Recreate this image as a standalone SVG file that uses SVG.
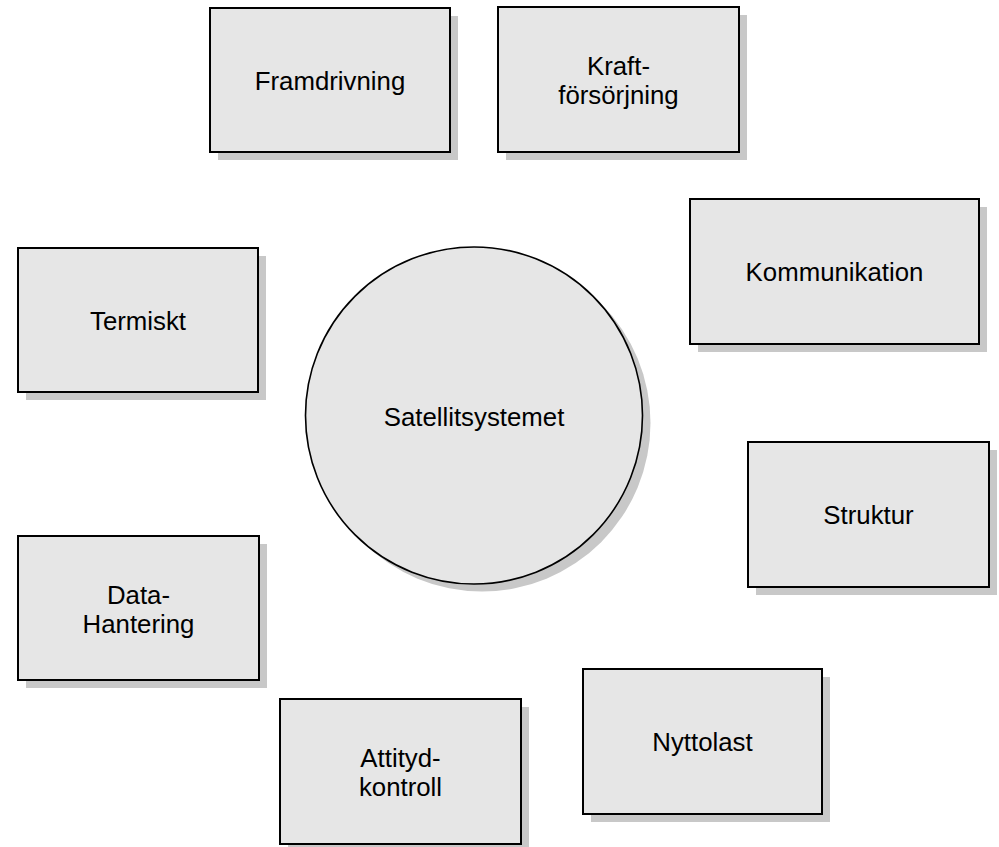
<svg xmlns="http://www.w3.org/2000/svg" width="999" height="847" viewBox="0 0 999 847">
<style>
.sh{fill:#c8c8c8;stroke:none}
.bx{fill:#e6e6e6;stroke:#000;stroke-width:2}
.ci{fill:#e6e6e6;stroke:#000;stroke-width:1.6}
.t{font-family:"Liberation Sans",Arial,sans-serif;font-size:25.8px;fill:#000;text-anchor:middle}
</style>
<rect width="999" height="847" fill="#fff"/>
<g id="connectors"></g>
<g id="satellitsystemet">
<circle class="sh" cx="482" cy="423" r="168.5"/>
<circle class="ci" cx="474" cy="415.5" r="168.5"/>
<text class="t" x="474" y="426">Satellitsystemet</text>
</g>
<g id="framdrivning">
<rect class="sh" x="218" y="16" width="240" height="144"/>
<rect class="bx" x="210" y="8" width="240" height="144"/>
<text class="t" x="330" y="90">Framdrivning</text>
</g>
<g id="kraftforsorjning">
<rect class="sh" x="506" y="15" width="241" height="145"/>
<rect class="bx" x="498" y="7" width="241" height="145"/>
<text class="t" x="618.5" y="75">Kraft-</text>
<text class="t" x="618.5" y="104">försörjning</text>
</g>
<g id="termiskt">
<rect class="sh" x="26" y="256" width="240" height="144"/>
<rect class="bx" x="18" y="248" width="240" height="144"/>
<text class="t" x="138" y="330">Termiskt</text>
</g>
<g id="kommunikation">
<rect class="sh" x="698" y="207" width="289" height="145"/>
<rect class="bx" x="690" y="199" width="289" height="145"/>
<text class="t" x="834.5" y="281">Kommunikation</text>
</g>
<g id="struktur">
<rect class="sh" x="756" y="450" width="241" height="145"/>
<rect class="bx" x="748" y="442" width="241" height="145"/>
<text class="t" x="868.5" y="524">Struktur</text>
</g>
<g id="datahantering">
<rect class="sh" x="26" y="544" width="241" height="144"/>
<rect class="bx" x="18" y="536" width="241" height="144"/>
<text class="t" x="138.5" y="604">Data-</text>
<text class="t" x="138.5" y="633">Hantering</text>
</g>
<g id="attitydkontroll">
<rect class="sh" x="288" y="707" width="241" height="145"/>
<rect class="bx" x="280" y="699" width="241" height="145"/>
<text class="t" x="400.5" y="767">Attityd-</text>
<text class="t" x="400.5" y="796">kontroll</text>
</g>
<g id="nyttolast">
<rect class="sh" x="591" y="677" width="239" height="145"/>
<rect class="bx" x="583" y="669" width="239" height="145"/>
<text class="t" x="702.5" y="751">Nyttolast</text>
</g>
</svg>
